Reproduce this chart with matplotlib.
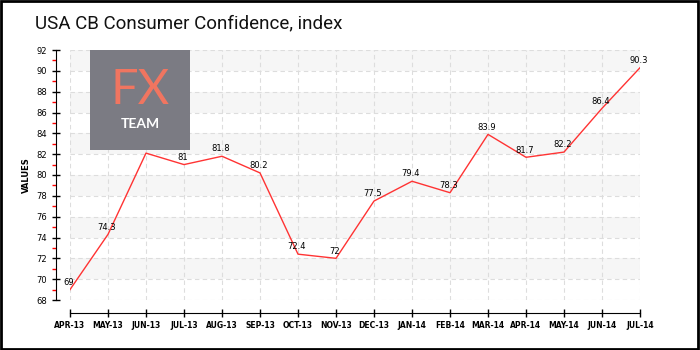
import matplotlib
matplotlib.use("Agg")
import matplotlib.pyplot as plt
from matplotlib.patches import Rectangle
from matplotlib.ticker import MultipleLocator

months = ["APR-13", "MAY-13", "JUN-13", "JUL-13", "AUG-13", "SEP-13", "OCT-13", "NOV-13",
          "DEC-13", "JAN-14", "FEB-14", "MAR-14", "APR-14", "MAY-14", "JUN-14", "JUL-14"]
values = [69, 74.3, 82.1, 81, 81.8, 80.2, 72.4, 72, 77.5, 79.4, 78.3, 83.9, 81.7, 82.2, 86.4, 90.3]
labels = ["69", "74.3", "82.1", "81", "81.8", "80.2", "72.4", "72", "77.5", "79.4", "78.3",
          "83.9", "81.7", "82.2", "86.4", "90.3"]

fig = plt.figure(figsize=(7, 3.5), dpi=100)
fig.patches.append(Rectangle((0.002, 0.003), 0.995, 0.994, transform=fig.transFigure,
                             fill=False, edgecolor="black", linewidth=2))

ax = fig.add_axes([70 / 700, 50 / 350, 570 / 700, 250 / 350])
# spines first: set_position resets the ticks
for side in ("top", "right"):
    ax.spines[side].set_visible(False)
ax.spines["left"].set_position(("outward", 10))
ax.spines["bottom"].set_position(("outward", 9))

x = list(range(len(months)))
ax.set_xlim(0, len(months) - 1)
ax.set_ylim(68, 92)

# alternating bands
for lo in range(70, 92, 4):
    ax.axhspan(lo, lo + 2, color="#f6f6f6", zorder=0, linewidth=0)

ax.grid(True, which="major", color="#dddddd", linestyle=(0, (4, 3)), linewidth=0.8, zorder=1)

ax.plot(x, values, color="#ff3333", linewidth=1.0, zorder=3)
for xi, v, lab in zip(x, values, labels):
    ax.annotate(lab, (xi, v), xytext=(-1, 2), textcoords="offset points", ha="center",
                va="bottom", fontsize=6, family="DejaVu Sans", zorder=4)

ax.set_xticks(x)
ax.set_xticklabels(months)
ax.yaxis.set_major_locator(MultipleLocator(2))
ax.yaxis.set_minor_locator(MultipleLocator(1))
ax.tick_params(axis="y", which="major", direction="inout", length=6, width=1, labelsize=6)
ax.tick_params(axis="y", which="minor", direction="out", length=3, width=1, color="red")
ax.tick_params(axis="x", which="major", direction="inout", length=6, width=1, pad=3,
               labelsize=5.5)
for t in ax.get_xticklabels():
    t.set_fontweight("bold")

ax.set_ylabel("VALUES", fontsize=6, fontweight="bold", labelpad=4)

fig.text(35 / 700, 1 - 23 / 350, "USA CB Consumer Confidence, index", fontsize=13.5,
         family="Roboto", color="#111111", va="center", ha="left")

# logo
logo = fig.add_axes([90 / 700, 1 - 150 / 350, 100 / 700, 100 / 350])
logo.set_xlim(0, 1)
logo.set_ylim(0, 1)
logo.set_facecolor("#7b7b83")
logo.set_xticks([])
logo.set_yticks([])
for s in logo.spines.values():
    s.set_visible(False)
logo.text(0.5, 0.6, "FX", color="#f07560", fontsize=35, ha="center", va="center",
          family="Lato", fontweight="normal")
logo.text(0.5, 0.26, "TEAM", color="white", fontsize=10, ha="center", va="center",
          family="Lato", fontweight="bold")

fig.savefig("out.png", dpi=100)
